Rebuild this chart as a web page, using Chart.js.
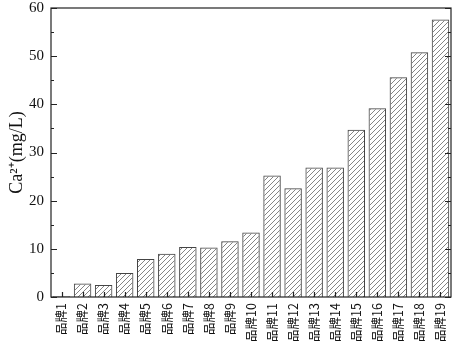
<!DOCTYPE html>
<html lang="zh">
<head>
  <meta charset="UTF-8">
  <title>Ca2+</title>
  <style>
    html, body { margin: 0; padding: 0; background: #fff; }
    #box { width: 454px; height: 344px; }
  </style>
</head>
<body>
  <div id="box"><canvas id="barChart" width="454" height="344"></canvas></div>
  <script src="https://cdn.jsdelivr.net/npm/chart.js"></script>
  <script>
    // 品牌 labels and Ca2+ values (mg/L)
    const brands = ['品牌1','品牌2','品牌3','品牌4','品牌5','品牌6','品牌7','品牌8','品牌9','品牌10',
                    '品牌11','品牌12','品牌13','品牌14','品牌15','品牌16','品牌17','品牌18','品牌19'];
    const caValues = [0.15, 2.8, 2.5, 5.0, 7.9, 9.0, 10.4, 10.3, 11.6, 13.4,
                      25.2, 22.6, 26.9, 26.9, 34.7, 39.2, 45.6, 50.8, 57.6];
    const yTicks = [0, 10, 20, 30, 40, 50, 60];

    // diagonal hatch fill
    const makeHatch = () => {
      const c = document.createElement('canvas');
      c.width = 5; c.height = 5;
      const g = c.getContext('2d');
      g.strokeStyle = '#777';
      g.lineWidth = 0.9;
      g.beginPath();
      g.moveTo(-1, 6); g.lineTo(6, -1);
      g.moveTo(-1, 1); g.lineTo(1, -1);
      g.moveTo(4, 6); g.lineTo(6, 4);
      g.stroke();
      return g.createPattern(c, 'repeat');
    };

    // frame + inward ticks
    const framePlugin = {
      id: 'frame',
      afterDraw(chart) {
        const { ctx, chartArea: a, scales } = chart;
        const y = scales.y, x = scales.x;
        ctx.save();
        ctx.strokeStyle = '#222';
        ctx.lineWidth = 1.2;
        ctx.strokeRect(a.left, a.top, a.right - a.left, a.bottom - a.top);
        ctx.beginPath();
        for (let v = 0; v <= 60; v += 5) {
          const py = Math.round(y.getPixelForValue(v)) + 0.5;
          const len = v % 10 === 0 ? 6 : 3;
          ctx.moveTo(a.left, py); ctx.lineTo(a.left + len, py);
          ctx.moveTo(a.right, py); ctx.lineTo(a.right - len, py);
        }
        brands.forEach((b, i) => {
          const px = Math.round(x.getPixelForValue(i)) + 0.5;
          ctx.moveTo(px, a.bottom); ctx.lineTo(px, a.bottom - 5);
        });
        ctx.stroke();
        ctx.restore();
      }
    };

    new Chart(document.getElementById('barChart'), {
      type: 'bar',
      data: {
        labels: brands,
        datasets: [{
          data: caValues,
          backgroundColor: makeHatch(),
          borderColor: '#444',
          borderWidth: 1,
          barPercentage: 0.83,
          categoryPercentage: 1
        }]
      },
      options: {
        responsive: false,
        animation: false,
        layout: { padding: { top: 8, right: 3, left: 0, bottom: 0 } },
        plugins: { legend: { display: false }, tooltip: { enabled: false } },
        scales: {
          x: {
            grid: { display: false, drawTicks: false },
            border: { display: false },
            ticks: {
              color: '#111',
              minRotation: 90, maxRotation: 90,
              padding: 6,
              font: { family: '"Noto Sans CJK SC", "Liberation Serif"', size: 12.5 }
            },
            afterFit: (s) => { s.height = 47; s.paddingLeft = 0; s.paddingRight = 0; }
          },
          y: {
            min: 0, max: 60,
            afterBuildTicks: (s) => { s.ticks = yTicks.map(v => ({ value: v })); },
            grid: { display: false, drawTicks: false },
            border: { display: false },
            ticks: {
              color: '#111',
              padding: 7,
              font: { family: '"Liberation Serif"', size: 15 }
            },
            title: {
              display: true,
              text: 'Ca²⁺(mg/L)',
              color: '#111',
              padding: { top: 6, bottom: 0 },
              font: { family: '"Liberation Serif"', size: 18 }
            },
            afterFit: (s) => { s.width = 51; s.paddingTop = 0; s.paddingBottom = 0; }
          }
        }
      },
      plugins: [framePlugin]
    });
  </script>
</body>
</html>
